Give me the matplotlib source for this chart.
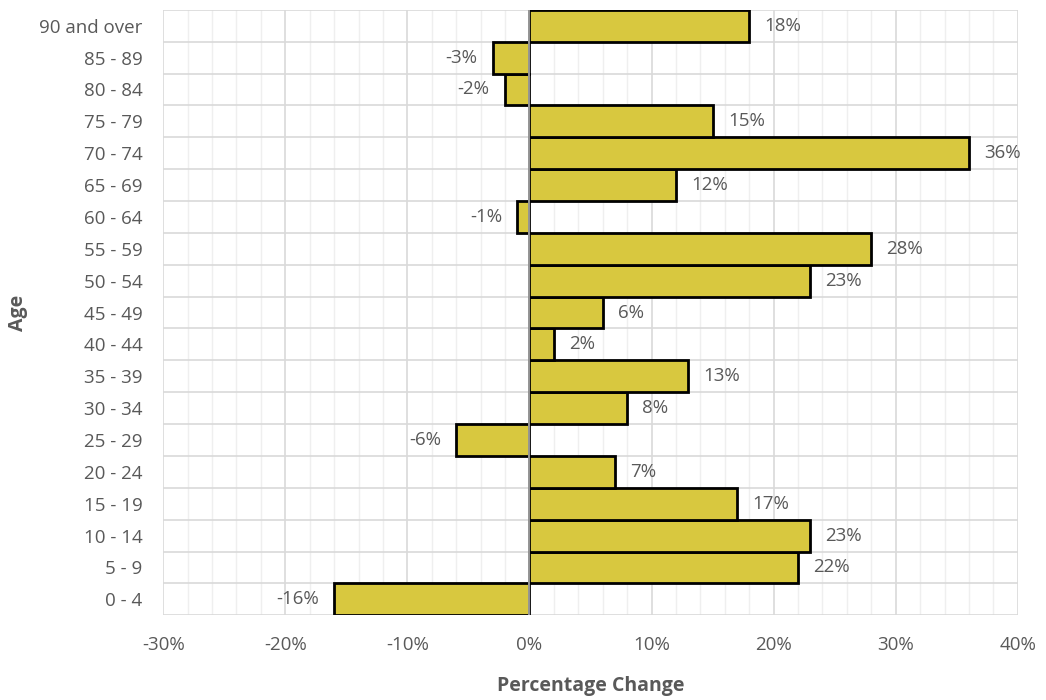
import numpy as np
import matplotlib.pyplot as plt
from matplotlib.ticker import MultipleLocator, FuncFormatter

# data, bottom to top
ages = ["0 - 4", "5 - 9", "10 - 14", "15 - 19", "20 - 24", "25 - 29", "30 - 34",
        "35 - 39", "40 - 44", "45 - 49", "50 - 54", "55 - 59", "60 - 64",
        "65 - 69", "70 - 74", "75 - 79", "80 - 84", "85 - 89", "90 and over"]
change = [-16, 22, 23, 17, 7, -6, 8, 13, 2, 6, 23, 28, -1, 12, 36, 15, -2, -3, 18]

plt.rcParams['font.family'] = ['Open Sans', 'DejaVu Sans']
txt = "#595959"

fig = plt.figure(figsize=(10.46, 7), dpi=100)
ax = fig.add_axes([0.156, 0.121, 0.817, 0.865])

y = np.arange(len(ages))
ax.barh(y, change, height=1.0, color="#D8C83F", edgecolor="black", linewidth=2, zorder=3)

for yi, v in zip(y, change):
    if v >= 0:
        ax.annotate(f"{v}%", (v, yi), xytext=(11, 0), textcoords="offset points",
                    ha="left", va="center", fontsize=13.5, color=txt)
    else:
        ax.annotate(f"{v}%", (v, yi), xytext=(-11, 0), textcoords="offset points",
                    ha="right", va="center", fontsize=13.5, color=txt)

ax.set_xlim(-30, 40)
ax.set_ylim(-0.5, len(ages) - 0.5)
ax.xaxis.set_major_locator(MultipleLocator(10))
ax.xaxis.set_minor_locator(MultipleLocator(2))
ax.xaxis.set_major_formatter(FuncFormatter(lambda v, p: f"{v:.0f}%"))
ax.set_yticks(y)
ax.set_yticklabels(ages)
ax.set_yticks(np.arange(-0.5, len(ages)), minor=True)

ax.grid(which="major", axis="x", color="#D9D9D9", linewidth=1.2, zorder=0)
ax.grid(which="minor", axis="x", color="#EFEFEF", linewidth=1.0, zorder=0)
ax.grid(which="minor", axis="y", color="#D9D9D9", linewidth=1.2, zorder=0)
ax.grid(which="major", axis="y", visible=False)
ax.axvline(0, color="#B0B0B0", linewidth=1.2, zorder=4)

for s in ax.spines.values():
    s.set_visible(False)
ax.tick_params(which="both", length=0)
ax.tick_params(axis="both", labelsize=13.5, labelcolor=txt)
ax.tick_params(axis="y", pad=15)
ax.tick_params(axis="x", pad=15)

ax.set_xlabel("Percentage Change", fontsize=14, fontweight="bold", color=txt, labelpad=16)
ax.set_ylabel("Age", fontsize=14, fontweight="bold", color=txt, labelpad=8)

fig.savefig("out.png", dpi=100)
